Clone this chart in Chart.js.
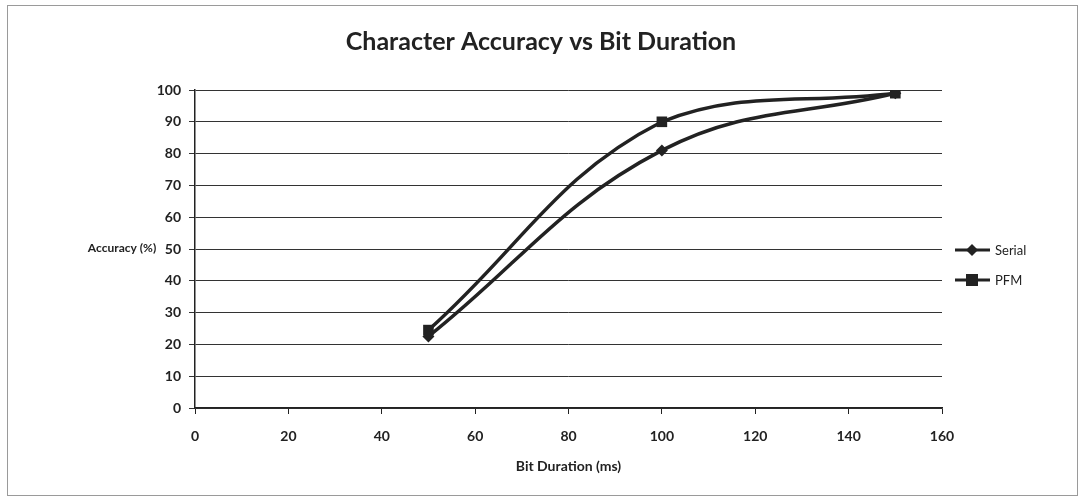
<!DOCTYPE html>
<html>
<head>
<meta charset="utf-8">
<script src="https://cdn.jsdelivr.net/npm/chart.js@4"></script>
<style>
  html, body { margin: 0; padding: 0; background: #fff; }
  #wrap { position: relative; width: 1084px; height: 501px; }
</style>
</head>
<body>
<div id="wrap"><canvas id="accChart" width="1084" height="501"></canvas></div>
<script>
// Data
const bitDurations = [50, 100, 150];
const serialAccuracy = [22.5, 81, 99];
const pfmAccuracy = [24.5, 90, 99];
const seriesNames = ['Serial', 'PFM'];
const yTicks = [0, 10, 20, 30, 40, 50, 60, 70, 80, 90, 100];
const xTicks = [0, 20, 40, 60, 80, 100, 120, 140, 160];

const ink = '#222';
const fam = 'Lato, "Open Sans", sans-serif';
const labelFont = { family: fam, size: 14, weight: 'bold' };

function toPoints(xs, ys) {
  return xs.map((x, i) => ({ x: x, y: ys[i] }));
}

// outer frame, title, horizontal y title and the right-hand legend
const extras = {
  id: 'extras',
  beforeDraw(chart) {
    const ctx = chart.ctx;
    ctx.save();
    ctx.fillStyle = '#fff';
    ctx.fillRect(0, 0, chart.width, chart.height);
    ctx.strokeStyle = '#9a9a9a';
    ctx.lineWidth = 1;
    ctx.strokeRect(7.5, 5.5, 1070, 490);
    ctx.restore();
  },
  afterDraw(chart) {
    const ctx = chart.ctx;
    ctx.save();
    ctx.fillStyle = ink;
    ctx.textAlign = 'center';
    ctx.textBaseline = 'middle';
    ctx.font = 'bold 25px ' + fam;
    ctx.fillText('Character Accuracy vs Bit Duration', 541, 42);

    ctx.font = 'bold 12px ' + fam;
    ctx.fillText('Accuracy (%)', 122, 248);

    // legend
    const rows = [250, 280];
    chart.data.datasets.forEach((ds, i) => {
      const y = rows[i];
      ctx.strokeStyle = ink;
      ctx.lineWidth = 3;
      ctx.beginPath();
      ctx.moveTo(955, y);
      ctx.lineTo(990, y);
      ctx.stroke();
      ctx.fillStyle = ink;
      if (ds.pointStyle === 'rect') {
        ctx.fillRect(966, y - 6, 12, 12);
      } else {
        ctx.beginPath();
        ctx.moveTo(972, y - 6);
        ctx.lineTo(978, y);
        ctx.lineTo(972, y + 6);
        ctx.lineTo(966, y);
        ctx.closePath();
        ctx.fill();
      }
      ctx.font = '13px ' + fam;
      ctx.textAlign = 'left';
      ctx.fillText(ds.label, 995, y + 1);
    });
    ctx.restore();
  }
};

const chartData = {
  datasets: [
    {
      label: seriesNames[0],
      data: toPoints(bitDurations, serialAccuracy),
      borderColor: ink,
      backgroundColor: ink,
      borderWidth: 3.5,
      tension: 0.4,
      pointStyle: 'rectRot',
      pointRadius: 6,
      pointBorderWidth: 0
    },
    {
      label: seriesNames[1],
      data: toPoints(bitDurations, pfmAccuracy),
      borderColor: ink,
      backgroundColor: ink,
      borderWidth: 3.5,
      tension: 0.4,
      pointStyle: 'rect',
      pointRadius: 7.5,
      pointBorderWidth: 0
    }
  ]
};

const chartOptions = {
  responsive: false,
  animation: false,
  layout: { padding: { top: 90, left: 0, right: 142, bottom: 0 } },
  plugins: {
    legend: { display: false },
    tooltip: { enabled: false },
    title: { display: false }
  },
  scales: {
    x: {
      type: 'linear',
      min: 0,
      max: 160,
      afterBuildTicks: (s) => { s.ticks = xTicks.map(v => ({ value: v })); },
      afterFit: (s) => { s.height = 93; },
      grid: { drawOnChartArea: false, drawTicks: true, tickLength: 6, color: ink },
      border: { display: true, color: ink, width: 1.5 },
      ticks: { color: ink, font: labelFont, padding: 14, maxRotation: 0 },
      title: {
        display: true,
        text: 'Bit Duration (ms)',
        color: ink,
        font: { family: fam, size: 14, weight: 'bold' },
        padding: { top: 0, bottom: 26 }
      }
    },
    y: {
      min: 0,
      max: 100,
      afterBuildTicks: (s) => { s.ticks = yTicks.map(v => ({ value: v })); },
      afterFit: (s) => { s.width = 195; },
      grid: { drawOnChartArea: true, drawTicks: true, tickLength: 6, color: '#333', lineWidth: 1 },
      border: { display: true, color: ink, width: 1.5 },
      ticks: { color: ink, font: labelFont, padding: 8 }
    }
  }
};

const ctx = document.getElementById('accChart').getContext('2d');
new Chart(ctx, {
  type: 'line',
  data: chartData,
  options: chartOptions,
  plugins: [extras]
});
</script>
</body>
</html>
